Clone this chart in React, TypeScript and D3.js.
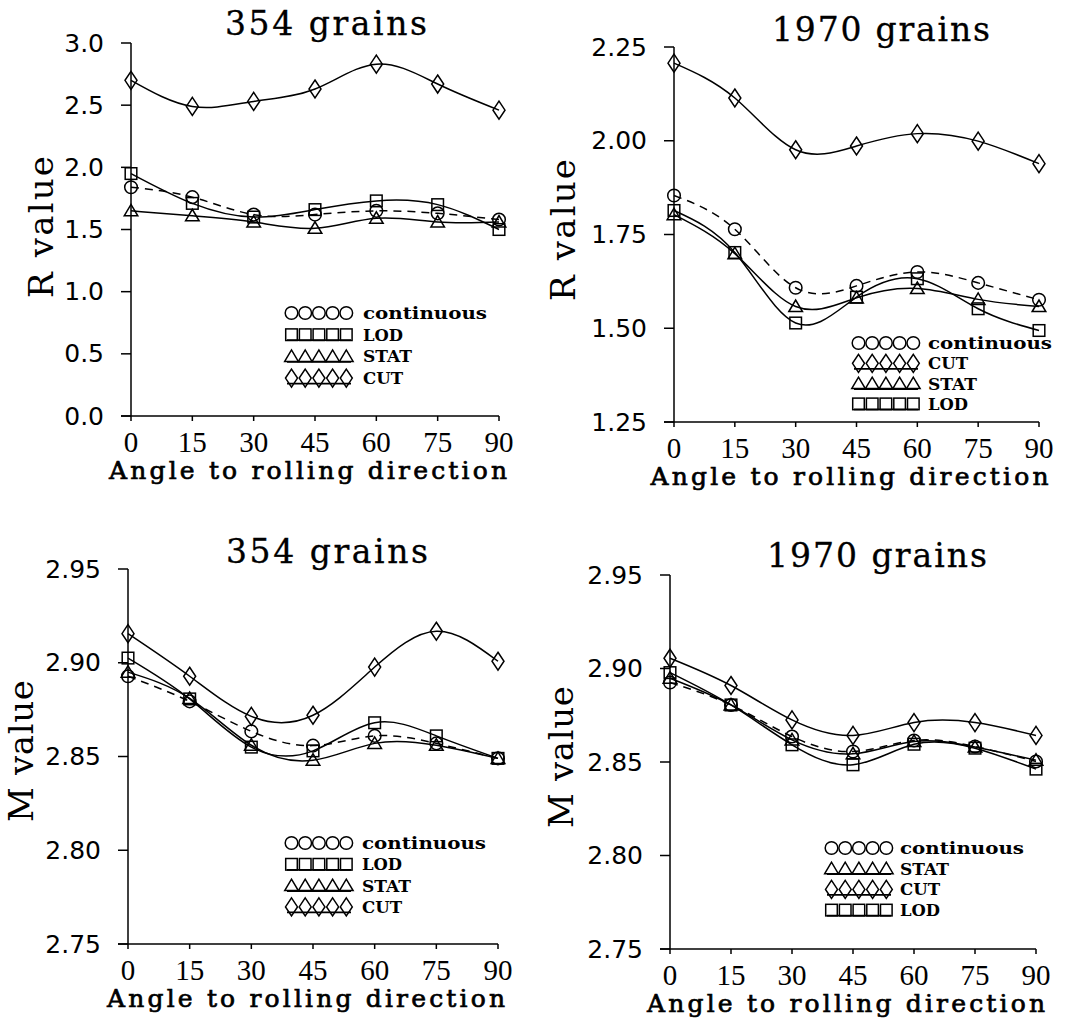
import React from "react";
import * as d3 from "d3";

const angles = [0, 15, 30, 45, 60, 75, 90];
const angleTicks = [0, 15, 30, 45, 60, 75, 90];

// R value, 354 grains
const r354Continuous = [1.84, 1.76, 1.62, 1.62, 1.65, 1.63, 1.58];
const r354Lod = [1.95, 1.71, 1.6, 1.66, 1.73, 1.7, 1.5];
const r354Stat = [1.65, 1.61, 1.56, 1.51, 1.59, 1.56, 1.56];
const r354Cut = [2.7, 2.49, 2.53, 2.63, 2.83, 2.67, 2.46];

// R value, 1970 grains
const r1970Continuous = [1.854, 1.764, 1.608, 1.613, 1.65, 1.621, 1.576];
const r1970Lod = [1.814, 1.702, 1.514, 1.583, 1.632, 1.552, 1.494];
const r1970Stat = [1.803, 1.699, 1.558, 1.581, 1.606, 1.577, 1.558];
const r1970Cut = [2.207, 2.114, 1.976, 1.986, 2.019, 1.999, 1.939];

// M value, 354 grains
const m354Continuous = [2.8928, 2.8794, 2.8634, 2.8558, 2.861, 2.857, 2.849];
const m354Lod = [2.9025, 2.8807, 2.855, 2.853, 2.868, 2.861, 2.849];
const m354Stat = [2.895, 2.881, 2.856, 2.848, 2.857, 2.856, 2.849];
const m354Cut = [2.9155, 2.8928, 2.8714, 2.872, 2.8977, 2.9168, 2.9008];

// M value, 1970 grains
const m1970Continuous = [2.8925, 2.8805, 2.8636, 2.8556, 2.8615, 2.8583, 2.8503];
const m1970Lod = [2.8978, 2.8805, 2.8592, 2.8485, 2.8595, 2.8574, 2.8462];
const m1970Stat = [2.8948, 2.8805, 2.8618, 2.8544, 2.861, 2.858, 2.851];
const m1970Cut = [2.9055, 2.8909, 2.8725, 2.8642, 2.8711, 2.8711, 2.8642];

const rTicks354 = [0, 0.5, 1, 1.5, 2, 2.5, 3];
const rTicks1970 = [1.25, 1.5, 1.75, 2, 2.25];
const mTicks = [2.75, 2.8, 2.85, 2.9, 2.95];

const markerOf: Record<string, string> = {
  continuous: "circle",
  LOD: "square",
  STAT: "triangle",
  CUT: "diamond",
};

const SERIF = "'DejaVu Serif', serif";
const NUM_X = "'Liberation Serif', serif";
const NUM_Y = "'DejaVu Sans', sans-serif";

function Marker({ kind, x, y }: { kind: string; x: number; y: number }) {
  const st = { fill: "none", stroke: "#000", strokeWidth: 1.5 };
  if (kind === "circle") return <circle cx={x} cy={y} r={6.3} {...st} />;
  if (kind === "square") return <rect x={x - 5.8} y={y - 5.8} width={11.6} height={11.6} {...st} />;
  if (kind === "triangle")
    return <path d={`M${x - 6.8},${y + 5} L${x},${y - 6.5} L${x + 6.8},${y + 5} Z`} {...st} />;
  return <path d={`M${x},${y - 9} L${x + 6},${y} L${x},${y + 9} L${x - 6},${y} Z`} {...st} />;
}

type Series = { name: string; values: number[] };

type PanelProps = {
  title: string;
  titleX: number;
  titleY: number;
  titleW: number;
  yLabel: string;
  yLabelX: number;
  yLabelY: number;
  x0: number;
  x1: number;
  yTop: number;
  yBottom: number;
  domain: [number, number];
  ticks: number[];
  fmt: string;
  series: Series[];
  legendOrder: string[];
  legendX: number;
  legendY: number;
  legendDy: number;
  legendTextX: number;
};

function Panel(p: PanelProps) {
  const x = d3.scaleLinear().domain([0, 90]).range([p.x0, p.x1]);
  const y = d3.scaleLinear().domain(p.domain).range([p.yBottom, p.yTop]);
  const line = d3
    .line<number>()
    .x((_, i) => x(angles[i]))
    .y((d) => y(d))
    .curve(d3.curveNatural);
  const fmt = d3.format(p.fmt);
  const legendW: Record<string, number> = { continuous: 124, LOD: 40, STAT: 49, CUT: 40 };

  return (
    <g>
      <text
        x={p.titleX}
        y={p.titleY}
        textAnchor="middle"
        fontFamily={SERIF}
        fontSize={33}
        stroke="#000"
        strokeWidth={0.3}
        textLength={p.titleW}
        lengthAdjust="spacing"
      >
        {p.title}
      </text>
      <text
        transform={`translate(${p.yLabelX},${p.yLabelY}) rotate(-90)`}
        textAnchor="middle"
        fontFamily={SERIF}
        fontSize={34}
        textLength={142}
        lengthAdjust="spacing"
      >
        {p.yLabel}
      </text>
      {/* axes */}
      <line x1={p.x0} x2={p.x0} y1={y(p.domain[1])} y2={p.yBottom} stroke="#000" strokeWidth={1.5} />
      <line x1={p.x0 - 10} x2={p.x1} y1={p.yBottom} y2={p.yBottom} stroke="#000" strokeWidth={1.5} />
      {p.ticks.map((t) => (
        <g key={t}>
          <line x1={p.x0 - 10} x2={p.x0} y1={y(t)} y2={y(t)} stroke="#000" strokeWidth={1.5} />
          <text
            x={p.x0 - 27}
            y={y(t)}
            textAnchor="end"
            dominantBaseline="central"
            fontFamily={NUM_Y}
            fontSize={25}
          >
            {fmt(t)}
          </text>
        </g>
      ))}
      {angleTicks.map((t) => (
        <g key={t}>
          <line x1={x(t)} x2={x(t)} y1={p.yBottom} y2={p.yBottom + 5} stroke="#000" strokeWidth={1.5} />
          <text x={x(t)} y={p.yBottom + 36} textAnchor="middle" fontFamily={NUM_X} fontSize={29}>
            {t}
          </text>
        </g>
      ))}
      <text
        x={(p.x0 + p.x1) / 2 - 7}
        y={p.yBottom + 63}
        textAnchor="middle"
        fontFamily={SERIF}
        fontSize={25}
        stroke="#000"
        strokeWidth={0.7}
        textLength={398}
        lengthAdjust="spacing"
      >
        Angle to rolling direction
      </text>
      {/* series */}
      {p.series.map((s) => (
        <g key={s.name}>
          <path
            d={line(s.values) || ""}
            fill="none"
            stroke="#000"
            strokeWidth={1.5}
            strokeDasharray={s.name === "continuous" ? "8,6" : undefined}
          />
          {s.values.map((v, i) => (
            <Marker key={i} kind={markerOf[s.name]} x={x(angles[i])} y={y(v)} />
          ))}
        </g>
      ))}
      {/* legend */}
      {p.legendOrder.map((name, r) => {
        const ly = p.legendY + r * p.legendDy;
        return (
          <g key={name}>
            {name !== "continuous" && (
              <line
                x1={p.legendX + 2}
                x2={p.legendX + 66}
                y1={ly + 5.5}
                y2={ly + 5.5}
                stroke="#000"
                strokeWidth={1.8}
              />
            )}
            {d3.range(5).map((k) => (
              <Marker key={k} kind={markerOf[name]} x={p.legendX + 6.5 + k * 13.7} y={ly} />
            ))}
            <text
              x={p.legendTextX}
              y={ly}
              dominantBaseline="central"
              fontFamily={SERIF}
              fontWeight="bold"
              fontSize={17}
              textLength={legendW[name]}
              lengthAdjust="spacingAndGlyphs"
            >
              {name}
            </text>
          </g>
        );
      })}
    </g>
  );
}

export default function App() {
  return (
    <svg
      width={1083}
      height={1019}
      style={{ position: "absolute", left: 0, top: 0, background: "#fff" }}
    >
      <rect width={1083} height={1019} fill="#fff" />
      <Panel
        title="354 grains"
        titleX={326}
        titleY={35}
        titleW={202}
        yLabel="R value"
        yLabelX={53}
        yLabelY={227}
        x0={131}
        x1={499}
        yTop={43}
        yBottom={416}
        domain={[0, 3]}
        ticks={rTicks354}
        fmt=".1f"
        series={[
          { name: "CUT", values: r354Cut },
          { name: "LOD", values: r354Lod },
          { name: "STAT", values: r354Stat },
          { name: "continuous", values: r354Continuous },
        ]}
        legendOrder={["continuous", "LOD", "STAT", "CUT"]}
        legendX={285}
        legendY={313}
        legendDy={21.7}
        legendTextX={363}
      />
      <Panel
        title="1970 grains"
        titleX={881}
        titleY={41}
        titleW={218}
        yLabel="R value"
        yLabelX={575}
        yLabelY={230}
        x0={674}
        x1={1039}
        yTop={47}
        yBottom={422}
        domain={[1.25, 2.25]}
        ticks={rTicks1970}
        fmt=".2f"
        series={[
          { name: "CUT", values: r1970Cut },
          { name: "LOD", values: r1970Lod },
          { name: "STAT", values: r1970Stat },
          { name: "continuous", values: r1970Continuous },
        ]}
        legendOrder={["continuous", "CUT", "STAT", "LOD"]}
        legendX={852}
        legendY={343}
        legendDy={20.3}
        legendTextX={928}
      />
      <Panel
        title="354 grains"
        titleX={327}
        titleY={563}
        titleW={202}
        yLabel="M value"
        yLabelX={33}
        yLabelY={751}
        x0={128}
        x1={498}
        yTop={569}
        yBottom={944}
        domain={[2.75, 2.95]}
        ticks={mTicks}
        fmt=".2f"
        series={[
          { name: "CUT", values: m354Cut },
          { name: "LOD", values: m354Lod },
          { name: "STAT", values: m354Stat },
          { name: "continuous", values: m354Continuous },
        ]}
        legendOrder={["continuous", "LOD", "STAT", "CUT"]}
        legendX={285}
        legendY={843}
        legendDy={21.3}
        legendTextX={362}
      />
      <Panel
        title="1970 grains"
        titleX={877}
        titleY={567}
        titleW={220}
        yLabel="M value"
        yLabelX={573}
        yLabelY={757}
        x0={670}
        x1={1036}
        yTop={575}
        yBottom={949}
        domain={[2.75, 2.95]}
        ticks={mTicks}
        fmt=".2f"
        series={[
          { name: "CUT", values: m1970Cut },
          { name: "LOD", values: m1970Lod },
          { name: "STAT", values: m1970Stat },
          { name: "continuous", values: m1970Continuous },
        ]}
        legendOrder={["continuous", "STAT", "CUT", "LOD"]}
        legendX={825}
        legendY={848}
        legendDy={20.7}
        legendTextX={900}
      />
    </svg>
  );
}
